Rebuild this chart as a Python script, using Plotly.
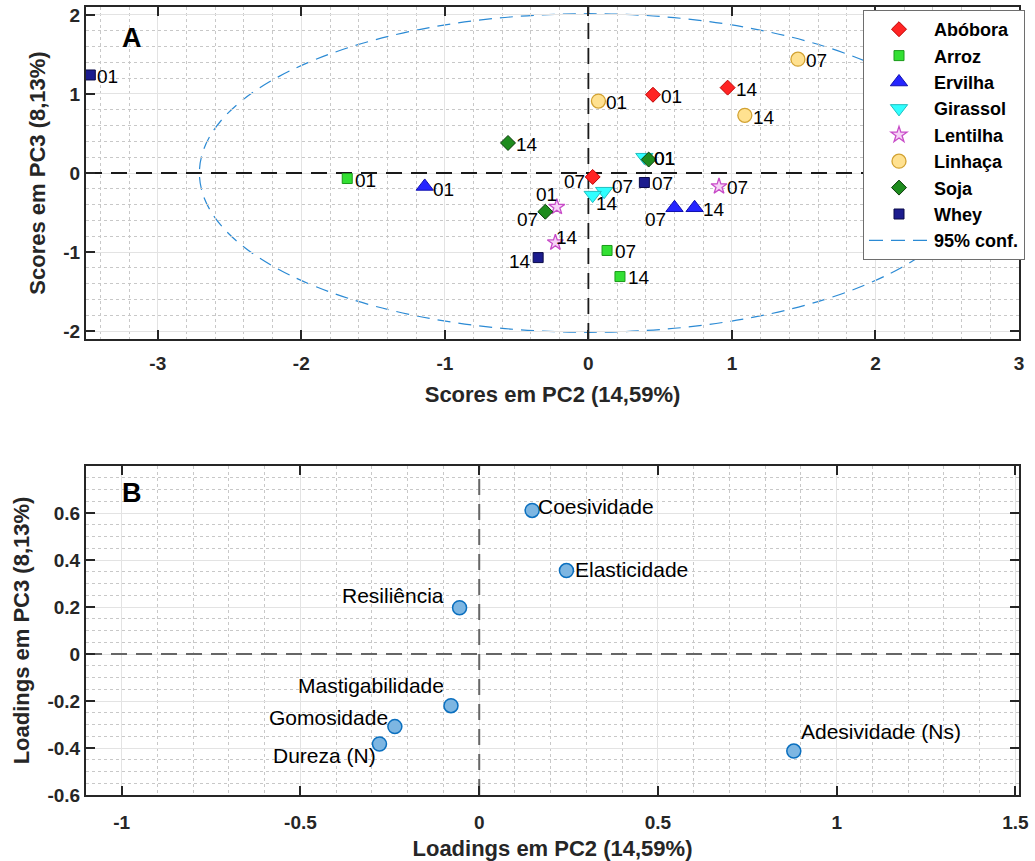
import plotly.graph_objects as go

FONT = "Arial, Liberation Sans, Helvetica, sans-serif"
W, H = 1035, 861

# ---------------- Panel A: scores (PC2 x PC3) ----------------
groups = ["Abóbora", "Arroz", "Ervilha", "Girassol", "Lentilha", "Linhaça", "Soja", "Whey"]
sample_labels = ["01", "07", "14"]

abobora_x = [0.45, 0.03, 0.97]
abobora_y = [0.99, -0.05, 1.08]
arroz_x = [-1.68, 0.13, 0.22]
arroz_y = [-0.07, -0.98, -1.31]
ervilha_x = [-1.14, 0.60, 0.74]
ervilha_y = [-0.17, -0.44, -0.44]
girassol_x = [0.39, 0.11, 0.03]
girassol_y = [0.20, -0.23, -0.28]
lentilha_x = [-0.22, 0.91, -0.23]
lentilha_y = [-0.43, -0.17, -0.88]
linhaca_x = [0.07, 1.46, 1.09]
linhaca_y = [0.91, 1.44, 0.73]
soja_x = [0.42, -0.30, -0.56]
soja_y = [0.17, -0.49, 0.38]
whey_x = [-3.47, 0.39, -0.35]
whey_y = [1.24, -0.12, -1.07]

scores_x = [abobora_x, arroz_x, ervilha_x, girassol_x, lentilha_x, linhaca_x, soja_x, whey_x]
scores_y = [abobora_y, arroz_y, ervilha_y, girassol_y, lentilha_y, linhaca_y, soja_y, whey_y]

# 95% confidence ellipse semi-axes
ellipse_a = 2.71
ellipse_b = 2.015

xrange_a = [-3.5, 3]
yrange_a = [-2.1, 2.1]
xticks_a = [-3, -2, -1, 0, 1, 2, 3]
xticklabels_a = ["-3", "-2", "-1", "0", "1", "2", "3"]
yticks_a = [-2, -1, 0, 1, 2]
yticklabels_a = ["-2", "-1", "0", "1", "2"]

# ---------------- Panel B: loadings ----------------
load_names = ["Coesividade", "Elasticidade", "Resiliência", "Mastigabilidade",
              "Gomosidade", "Dureza (N)", "Adesividade (Ns)"]
load_x = [0.148, 0.244, -0.055, -0.079, -0.236, -0.279, 0.880]
load_y = [0.611, 0.355, 0.197, -0.220, -0.309, -0.383, -0.413]

xrange_b = [-1.1, 1.51]
yrange_b = [-0.6, 0.8]
xticks_b = [-1, -0.5, 0, 0.5, 1, 1.5]
xticklabels_b = ["-1", "-0.5", "0", "0.5", "1", "1.5"]
yticks_b = [-0.6, -0.4, -0.2, 0, 0.2, 0.4, 0.6]
yticklabels_b = ["-0.6", "-0.4", "-0.2", "0", "0.2", "0.4", "0.6"]

# ---------------- styles ----------------
marker_styles = {
    "Abóbora": dict(symbol="diamond", size=11.5, color="#FF2424", line=dict(color="#C00000", width=1)),
    "Arroz": dict(symbol="square", size=10, color="#33E033", line=dict(color="#1A9A1A", width=1)),
    "Ervilha": dict(symbol="triangle-up", size=15, color="#2424FF", line=dict(color="#1010B0", width=1)),
    "Girassol": dict(symbol="triangle-down", size=15, color="#30FFFF", line=dict(color="#20C0C0", width=1)),
    "Lentilha": dict(symbol="star", size=12, color="#F6D2F6", line=dict(color="#C84CC8", width=1.3)),
    "Linhaça": dict(symbol="circle", size=14, color="#FFE190", line=dict(color="#D2A232", width=1.3)),
    "Soja": dict(symbol="diamond", size=11.5, color="#1E8C1E", line=dict(color="#0C3C0C", width=1)),
    "Whey": dict(symbol="square", size=10, color="#1C1C8E", line=dict(color="#0A0A48", width=1)),
}
# label placement per point: (anchor side, dx px, dy px downward)
label_offsets = {
    "Abóbora": [("left", 6, 2), ("right", -6, 5), ("left", 6, 2)],
    "Arroz": [("left", 6, 2), ("left", 6, 1), ("left", 6, 1)],
    "Ervilha": [("left", 6, 3), ("right", -7, 12), ("left", 6, 2)],
    "Girassol": [("left", 7.3, 1.4), ("left", 6, -5), ("left", 1, 8)],
    "Lentilha": [("right", 2, -12), ("left", 6, 1), ("left", -1, -5)],
    "Linhaça": [("left", 6, 1), ("left", 6, 1), ("left", 6, 2)],
    "Soja": [("left", 3, -1), ("right", -5, 8), ("left", 6, 2)],
    "Whey": [("left", 5, 2), ("left", 6, 1), ("right", -5, 4)],
}
load_offsets = [("left", 4, -4), ("left", 7, -1), ("right", -14, -12), ("right", -5, -20),
                ("right", -5, -9), ("right", -1, 11), ("left", 5, -20)]

ELL_COLOR = "#2B8AD4"
AX_COLOR = "#262626"
ZERO_A = dict(color="#1A1A1A", width=1.8, dash="16px,9px")
ZERO_B = dict(color="#666666", width=2, dash="16px,9px")

fig = go.Figure()

# dashed zero lines (below markers, above grid)
for xs, ys, ax, ay, ln in [
    (xrange_a, [0, 0], "x", "y", ZERO_A), ([0, 0], yrange_a, "x", "y", ZERO_A),
    (xrange_b, [0, 0], "x2", "y2", ZERO_B), ([0, 0], yrange_b, "x2", "y2", ZERO_B),
]:
    fig.add_trace(go.Scatter(x=xs, y=ys, mode="lines", line=ln, xaxis=ax, yaxis=ay,
                             showlegend=False, hoverinfo="skip"))

for g, xs, ys in zip(groups, scores_x, scores_y):
    fig.add_trace(go.Scatter(
        x=xs, y=ys, mode="markers", name=g,
        marker=marker_styles[g], xaxis="x", yaxis="y",
        cliponaxis=False,
    ))

# legend entry for the ellipse
fig.add_trace(go.Scatter(
    x=[None], y=[None], mode="lines", name="95% conf.",
    line=dict(color=ELL_COLOR, width=1.2, dash="14px,8px"),
    xaxis="x", yaxis="y",
))

fig.add_trace(go.Scatter(
    x=load_x, y=load_y, mode="markers",
    marker=dict(symbol="circle", size=14, color="#7DB6E2", line=dict(color="#0A6FBF", width=1.5)),
    xaxis="x2", yaxis="y2", showlegend=False,
))

# point labels
annotations = []
for g, xs, ys in zip(groups, scores_x, scores_y):
    for xv, yv, lab, (side, dx, dy) in zip(xs, ys, sample_labels, label_offsets[g]):
        annotations.append(dict(
            x=xv, y=yv, xref="x", yref="y", text=lab, showarrow=False,
            xanchor=side, yanchor="middle", xshift=dx, yshift=-dy,
            font=dict(family=FONT, size=19, color="black"),
        ))
for xv, yv, lab, (side, dx, dy) in zip(load_x, load_y, load_names, load_offsets):
    annotations.append(dict(
        x=xv, y=yv, xref="x2", yref="y2", text=lab, showarrow=False,
        xanchor=side, yanchor="middle", xshift=dx, yshift=-dy,
        font=dict(family=FONT, size=21, color="black"),
    ))
annotations.append(dict(x=-3.18, y=1.71, xref="x", yref="y", text="A", showarrow=False,
                        font=dict(family=FONT, size=27, color="black", weight="bold")))
annotations.append(dict(x=-0.971, y=0.684, xref="x2", yref="y2", text="B", showarrow=False,
                        font=dict(family=FONT, size=27, color="black", weight="bold")))

# ---------------- layout ----------------
x0p, x1p = 86 / W, 1019 / W
yA = [1 - 339 / H, 1 - 7 / H]
yB = [1 - 795 / H, 1 - 466 / H]


def axis(rng, tickvals, ticktext, minor_dtick, domain, title, anchor, standoff, labelpad):
    return dict(
        range=rng, domain=domain, anchor=anchor,
        tickmode="array", tickvals=tickvals, ticktext=ticktext,
        ticks="inside", ticklen=9, tickwidth=2, tickcolor=AX_COLOR,
        showline=True, linecolor=AX_COLOR, linewidth=2, mirror="ticks",
        showgrid=True, gridcolor="#E3E3E3", gridwidth=1.3,
        zeroline=False, ticklabelstandoff=labelpad,
        tickfont=dict(family=FONT, size=19, color=AX_COLOR, weight="bold"),
        title=dict(text=title, font=dict(family=FONT, size=22, color=AX_COLOR, weight="bold"),
                   standoff=standoff),
        minor=dict(tickmode="linear", tick0=0, dtick=minor_dtick, showgrid=True,
                   gridcolor="#C8C8C8", griddash="dot", gridwidth=1),
        automargin=False, fixedrange=True,
    )


fig.update_layout(
    width=W, height=H,
    margin=dict(l=0, r=0, t=0, b=0),
    paper_bgcolor="white", plot_bgcolor="white",
    font=dict(family=FONT),
    xaxis=axis(xrange_a, xticks_a, xticklabels_a, 0.2, [x0p, x1p], "Scores em PC2 (14,59%)", "y", 14, 6),
    yaxis=axis(yrange_a, yticks_a, yticklabels_a, 0.2, yA, "Scores em PC3 (8,13%)", "x", 12, 0),
    xaxis2=axis(xrange_b, xticks_b, xticklabels_b, 0.1, [x0p, x1p], "Loadings em PC2 (14,59%)", "y2", 12, 9),
    yaxis2=axis(yrange_b, yticks_b, yticklabels_b, 0.05, yB, "Loadings em PC3 (8,13%)", "x2", 12, 0),
    legend=dict(
        x=863 / W, y=1 - 10 / H, xanchor="left", yanchor="top",
        bgcolor="white", bordercolor="#6E6E6E", borderwidth=1,
        font=dict(family=FONT, size=18, color="black", weight="bold"),
        itemwidth=60, tracegroupgap=0,
    ),
    showlegend=True,
    annotations=annotations,
)

shapes = [
    # confidence ellipse
    dict(type="circle", xref="x", yref="y", x0=-ellipse_a, x1=ellipse_a, y0=-ellipse_b, y1=ellipse_b,
         line=dict(color=ELL_COLOR, width=1.2, dash="13px,8px"), layer="below"),
]
fig.update_layout(shapes=shapes)

fig.write_html("out.html")
